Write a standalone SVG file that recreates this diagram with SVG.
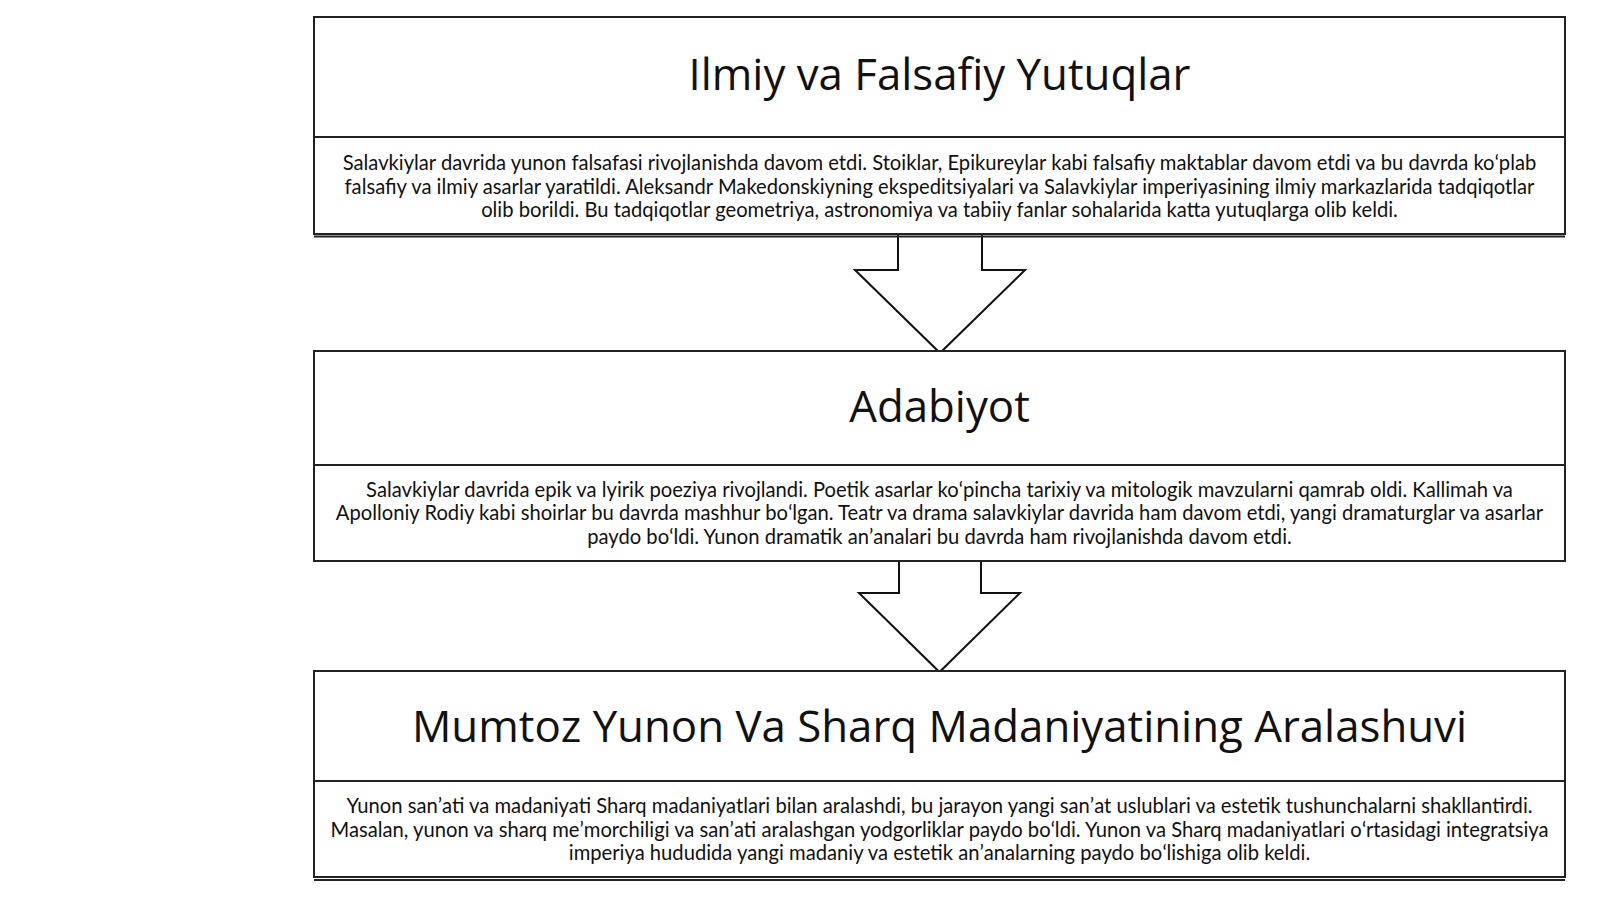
<svg xmlns="http://www.w3.org/2000/svg" width="1600" height="899" viewBox="0 0 1600 899">
<style>
.box{fill:#fff;stroke:#222;stroke-width:2}
.line{stroke:#222;stroke-width:2;fill:none}
.arrow{fill:#fff;stroke:#111;stroke-width:2;stroke-linejoin:miter}
.title{font-family:"Open Sans","Noto Sans",sans-serif;font-size:43.8px;fill:#111;text-anchor:middle;dominant-baseline:central}
.body{font-family:Lato,"Liberation Sans",sans-serif;font-size:20.2px;fill:#111;text-anchor:middle;dominant-baseline:central}
</style>
<rect width="1600" height="899" fill="#fff"/>
<g id="connectors">
<path class="arrow" d="M898,234 V270 H855 L940,353 L1025,270 H982 V234"/>
<path class="arrow" d="M899,561 V593 H859 L939.5,672 L1020,593 H981 V561"/>
</g>
<g id="node1">
<rect class="box" x="314" y="17" width="1251" height="217"/>
<line class="line" x1="314" y1="137" x2="1565" y2="137"/>
<line class="line" x1="314" y1="236.5" x2="1565" y2="236.5"/>
<text class="title" x="939.5" y="73">Ilmiy va Falsafiy Yutuqlar</text>
<text class="body" x="939.5" y="162">Salavkiylar davrida yunon falsafasi rivojlanishda davom etdi. Stoiklar, Epikureylar kabi falsafiy maktablar davom etdi va bu davrda koʻplab</text>
<text class="body" x="939.5" y="186">falsafiy va ilmiy asarlar yaratildi. Aleksandr Makedonskiyning ekspeditsiyalari va Salavkiylar imperiyasining ilmiy markazlarida tadqiqotlar</text>
<text class="body" x="939.5" y="209">olib borildi. Bu tadqiqotlar geometriya, astronomiya va tabiiy fanlar sohalarida katta yutuqlarga olib keldi.</text>
</g>
<g id="node2">
<rect class="box" x="314" y="351" width="1251" height="210"/>
<line class="line" x1="314" y1="465" x2="1565" y2="465"/>
<text class="title" x="939.5" y="405">Adabiyot</text>
<text class="body" x="939.5" y="489">Salavkiylar davrida epik va lyirik poeziya rivojlandi. Poetik asarlar koʻpincha tarixiy va mitologik mavzularni qamrab oldi. Kallimah va</text>
<text class="body" x="939.5" y="512">Apolloniy Rodiy kabi shoirlar bu davrda mashhur boʻlgan. Teatr va drama salavkiylar davrida ham davom etdi, yangi dramaturglar va asarlar</text>
<text class="body" x="939.5" y="536">paydo boʻldi. Yunon dramatik anʼanalari bu davrda ham rivojlanishda davom etdi.</text>
</g>
<g id="node3">
<rect class="box" x="314" y="671" width="1251" height="206"/>
<line class="line" x1="314" y1="781" x2="1565" y2="781"/>
<line class="line" x1="314" y1="880" x2="1565" y2="880"/>
<text class="title" x="939.5" y="725">Mumtoz Yunon Va Sharq Madaniyatining Aralashuvi</text>
<text class="body" x="939.5" y="805">Yunon sanʼati va madaniyati Sharq madaniyatlari bilan aralashdi, bu jarayon yangi sanʼat uslublari va estetik tushunchalarni shakllantirdi.</text>
<text class="body" x="939.5" y="829">Masalan, yunon va sharq meʼmorchiligi va sanʼati aralashgan yodgorliklar paydo boʻldi. Yunon va Sharq madaniyatlari oʻrtasidagi integratsiya</text>
<text class="body" x="939.5" y="852">imperiya hududida yangi madaniy va estetik anʼanalarning paydo boʻlishiga olib keldi.</text>
</g>
</svg>
